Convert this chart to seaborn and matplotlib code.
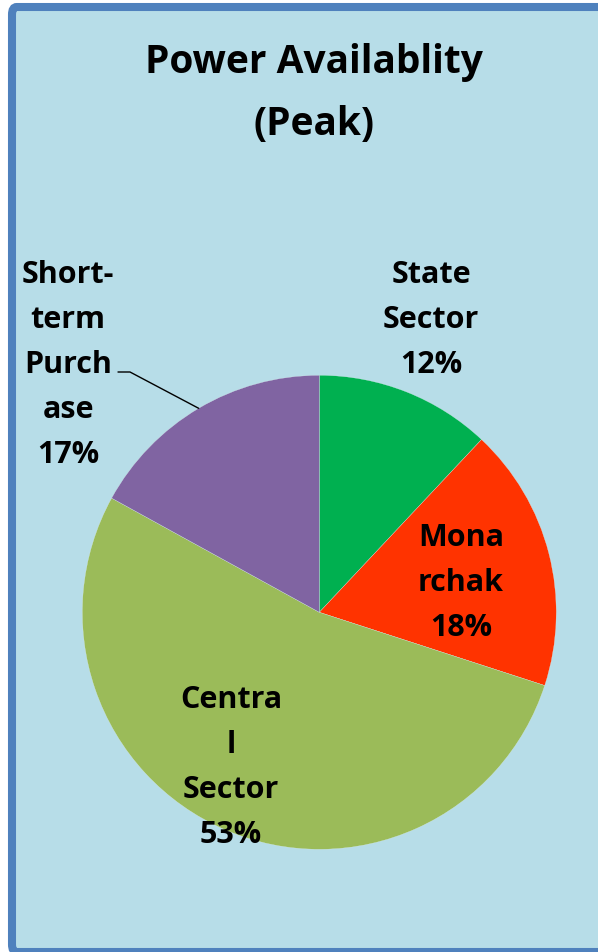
import numpy as np
import matplotlib
matplotlib.use("Agg")
import matplotlib.pyplot as plt
from matplotlib.patches import FancyBboxPatch
from matplotlib.lines import Line2D
import seaborn as sns

# chart data
sectors = ["State Sector", "Monarchak", "Central Sector", "Short-term Purchase"]
shares = [12, 18, 53, 17]
label_lines = [
    ["State", "Sector", "12%"],
    ["Mona", "rchak", "18%"],
    ["Centra", "l", "Sector", "53%"],
    ["Short-", "term", "Purch", "ase", "17%"],
]
slice_colors = ["#00B050", "#FF3300", "#9BBB59", "#8064A2"]
title = "Power Availablity\n(Peak)"

sns.set_style("white")
plt.rcParams["font.family"] = ["Open Sans", "DejaVu Sans"]

W, H = 598, 953
fig = plt.figure(figsize=(W / 100, H / 100), dpi=100)
fig.patch.set_facecolor("white")


def px(x, y):
    # pixel coords (top-left origin) -> figure fraction
    return x / W, 1 - y / H


# chart area background + border
x0, y0 = px(12, 953)
x1, y1 = px(640, 8)
frame = FancyBboxPatch((x0, y0), x1 - x0, y1 - y0, boxstyle="round,pad=0,rounding_size=0.008",
                       transform=fig.transFigure, facecolor="#B7DDE8", edgecolor="#4F81BD",
                       linewidth=5.8, zorder=0)
fig.add_artist(frame)

# pie
cx, cy, r = 319.3, 613.3, 237
ax = fig.add_axes([(cx - r) / W, (H - cy - r) / H, 2 * r / W, 2 * r / H])
ax.set_facecolor("none")
palette = sns.color_palette(slice_colors)
wedges, _ = ax.pie(shares, colors=palette, startangle=90, counterclock=False, radius=1,
                   wedgeprops=dict(edgecolor="#DDEEEE", linewidth=0.2))
ax.set_xlim(-1, 1)
ax.set_ylim(-1, 1)
ax.set_aspect("auto")
ax.axis("off")

# title
fig.text(*px(314, 73), title.split("\n")[0], ha="center", va="baseline",
         fontsize=28, fontweight="bold", color="black")
fig.text(*px(314, 135), title.split("\n")[1], ha="center", va="baseline",
         fontsize=28, fontweight="bold", color="black")

# data labels (x centre, first baseline)
label_pos = [(431, 283), (461, 546), (231, 708), (68, 283)]
for lines, (lx, ly) in zip(label_lines, label_pos):
    for i, line in enumerate(lines):
        fig.text(*px(lx, ly + 45 * i), line, ha="center", va="baseline",
                 fontsize=22, fontweight="bold", color="black")

# leader line for short-term purchase
w = wedges[3]
mid = np.deg2rad((w.theta1 + w.theta2) / 2)
ex, ey = cx + r * np.cos(mid), cy - r * np.sin(mid)
pts = [px(118, 373), px(130, 373), px(ex, ey)]
fig.add_artist(Line2D([p[0] for p in pts], [p[1] for p in pts], transform=fig.transFigure,
                      color="black", linewidth=1.0))

fig.savefig("out.png", dpi=100)
